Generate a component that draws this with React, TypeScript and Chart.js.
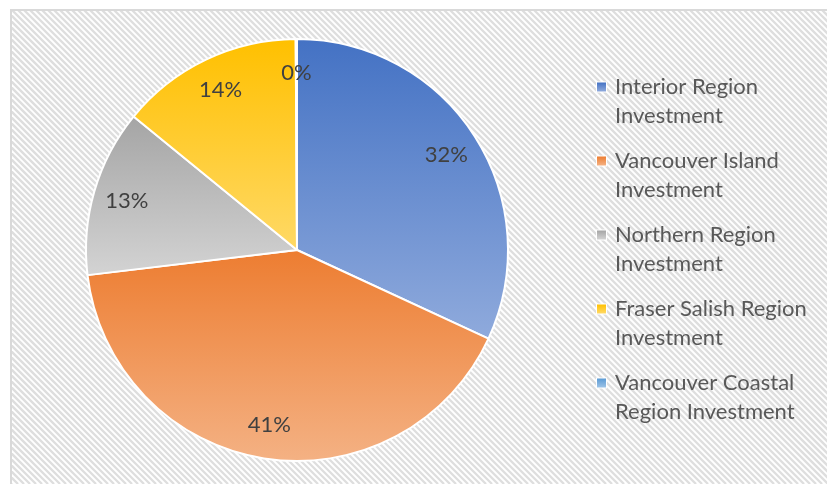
import React, { useEffect, useRef } from "react";
import { Chart, registerables } from "chart.js";

Chart.register(...registerables);

const categories = [
  "Interior Region Investment",
  "Vancouver Island Investment",
  "Northern Region Investment",
  "Fraser Salish Region Investment",
  "Vancouver Coastal Region Investment",
];
const legendLines = [
  ["Interior Region", "Investment"],
  ["Vancouver Island", "Investment"],
  ["Northern Region", "Investment"],
  ["Fraser Salish Region", "Investment"],
  ["Vancouver Coastal", "Region Investment"],
];
const shares = [31.9, 41.2, 12.8, 14.0, 0.1];
const topColors = ["#4472C4", "#ED7D31", "#A5A5A5", "#FFC000", "#5B9BD5"];
const bottomColors = ["#8FAADC", "#F4B183", "#D3D3D3", "#FFD966", "#9DC3E6"];

const FONT = "Lato, 'Open Sans', sans-serif";

function sliceYRange(area: any, index: number) {
  const total = shares.reduce((a, b) => a + b, 0);
  let before = 0;
  for (let k = 0; k < index; k++) before += shares[k];
  const a0 = (before / total) * Math.PI * 2;
  const a1 = ((before + shares[index]) / total) * Math.PI * 2;
  const cy = (area.top + area.bottom) / 2;
  const r = Math.min(area.right - area.left, area.bottom - area.top) / 2 - 2;
  let ymin = cy;
  let ymax = cy;
  const steps = 90;
  for (let s = 0; s <= steps; s++) {
    const a = a0 + ((a1 - a0) * s) / steps;
    const y = cy - r * Math.cos(a);
    ymin = Math.min(ymin, y);
    ymax = Math.max(ymax, y);
  }
  if (ymax - ymin < 1) ymax = ymin + 1;
  return [ymin, ymax];
}

const backgroundPlugin = {
  id: "hatchBackground",
  beforeDraw(chart: any) {
    const ctx = chart.ctx;
    const W = chart.width;
    const H = chart.height;
    ctx.save();
    ctx.fillStyle = "#ffffff";
    ctx.fillRect(0, 0, W, H);
    const left = 12;
    const top = 11;
    ctx.beginPath();
    ctx.rect(left, top, W - left, H - top);
    ctx.clip();
    ctx.strokeStyle = "#DEDEDE";
    ctx.lineWidth = 2.3;
    for (let k = -H; k < W + 10; k += 6) {
      ctx.beginPath();
      ctx.moveTo(k, 0);
      ctx.lineTo(k + H, H);
      ctx.stroke();
    }
    ctx.restore();
    ctx.save();
    ctx.fillStyle = "#D9D9D9";
    ctx.fillRect(10, 9, 2, H - 9);
    ctx.fillRect(10, 9, W - 10, 2);
    ctx.restore();
  },
};

const labelsPlugin = {
  id: "sliceLabels",
  afterDatasetsDraw(chart: any) {
    const ctx = chart.ctx;
    const meta = chart.getDatasetMeta(0);
    const data = chart.data.datasets[0].data as number[];
    const total = data.reduce((a, b) => a + b, 0);
    ctx.save();
    ctx.font = `22px ${FONT}`;
    ctx.fillStyle = "#404040";
    ctx.textAlign = "center";
    ctx.textBaseline = "middle";
    meta.data.forEach((arc: any, i: number) => {
      const mid = (arc.startAngle + arc.endAngle) / 2;
      const rr = arc.outerRadius * 0.84;
      const x = arc.x + Math.cos(mid) * rr;
      const y = arc.y + Math.sin(mid) * rr;
      ctx.fillText(Math.round((data[i] / total) * 100) + "%", x, y);
    });
    ctx.restore();
  },
};

const legendPlugin = {
  id: "wrapLegend",
  afterDraw(chart: any) {
    const ctx = chart.ctx;
    const x0 = 597;
    const y0 = 87;
    const itemGap = 74;
    const lineGap = 29;
    ctx.save();
    ctx.font = `22px ${FONT}`;
    ctx.textBaseline = "middle";
    ctx.textAlign = "left";
    legendLines.forEach((lines, i) => {
      const cy = y0 + i * itemGap;
      const g = ctx.createLinearGradient(0, cy - 4.5, 0, cy + 4.5);
      g.addColorStop(0, topColors[i]);
      g.addColorStop(1, bottomColors[i]);
      ctx.fillStyle = "#ffffff";
      ctx.fillRect(x0 - 1, cy - 5.5, 11, 11);
      ctx.fillStyle = g;
      ctx.fillRect(x0, cy - 4.5, 9, 9);
      ctx.fillStyle = "#595959";
      lines.forEach((t, j) => ctx.fillText(t, x0 + 18, cy + j * lineGap));
    });
    ctx.restore();
  },
};

export default function App() {
  const ref = useRef<HTMLCanvasElement | null>(null);
  useEffect(() => {
    document.body.style.margin = "0";
    const canvas = ref.current;
    if (!canvas) return;
    const chart = new Chart(canvas, {
      type: "pie",
      data: {
        labels: categories,
        datasets: [
          {
            data: shares,
            backgroundColor: (c: any) => {
              const area = c.chart.chartArea;
              const i = c.dataIndex;
              if (!area || i === undefined) return topColors[i ?? 0];
              const [a, b] = sliceYRange(area, i);
              const g = c.chart.ctx.createLinearGradient(0, a, 0, b);
              g.addColorStop(0, topColors[i]);
              g.addColorStop(1, bottomColors[i]);
              return g;
            },
            borderColor: "#ffffff",
            borderWidth: 2,
          },
        ],
      },
      options: {
        responsive: false,
        animation: false,
        layout: { padding: { left: 85, right: 318, top: 38, bottom: 22 } },
        plugins: {
          legend: { display: false },
          tooltip: { enabled: false },
        },
      },
      plugins: [backgroundPlugin, labelsPlugin, legendPlugin],
    });
    return () => chart.destroy();
  }, []);
  return (
    <div style={{ width: 827, height: 484 }}>
      <canvas ref={ref} width={827} height={484} style={{ display: "block" }} />
    </div>
  );
}
